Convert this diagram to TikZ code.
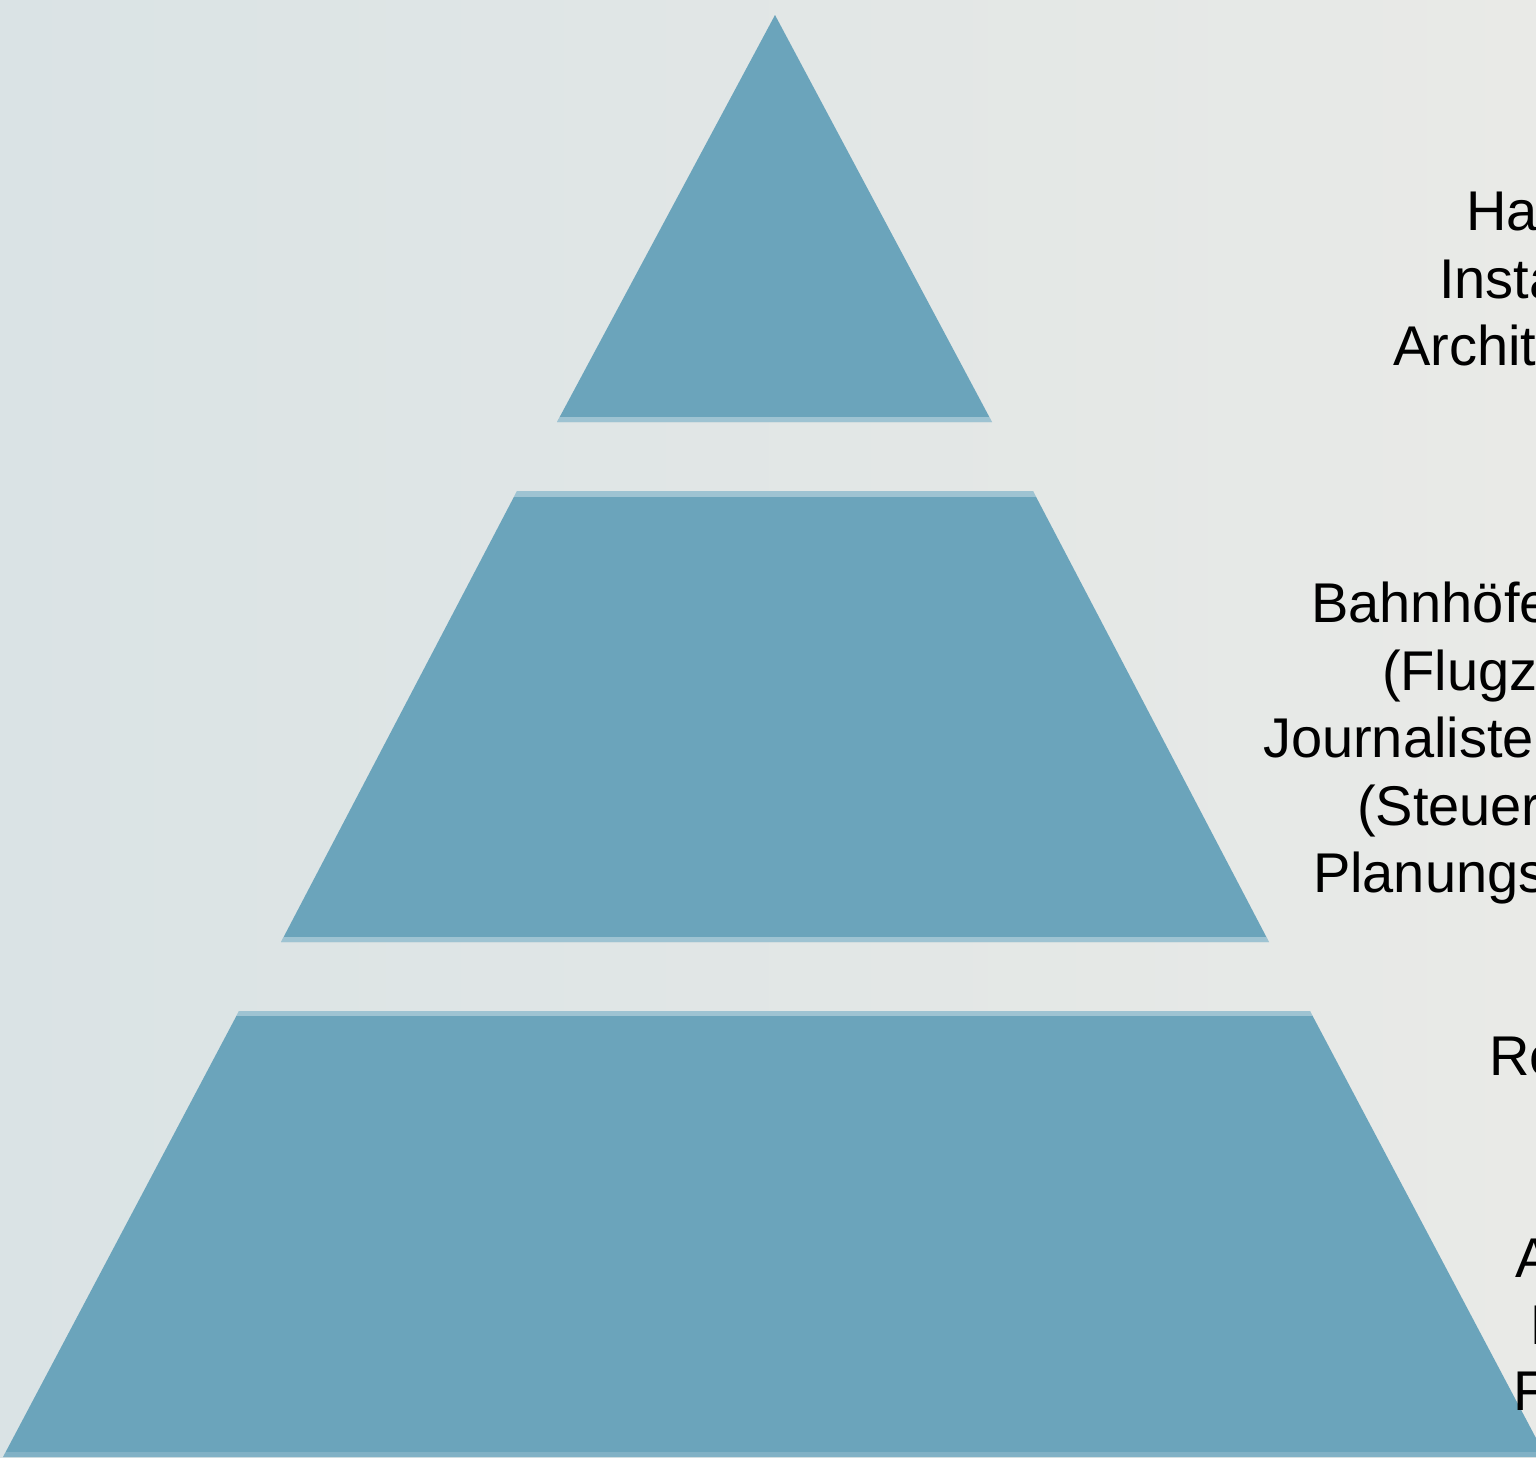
\documentclass[tikz,border=0pt]{standalone}
\usepackage{fontspec}
\setmainfont{Liberation Sans}
\definecolor{bgL}{RGB}{218,227,229}
\definecolor{bgR}{RGB}{233,234,231}
\definecolor{pyr}{RGB}{107,164,187}
\tikzset{
  lvl/.style={fill=pyr, draw=none},
  band/.style={fill=white, opacity=0.35},
  lbl/.style={anchor=base west, inner sep=0pt, outer sep=0pt, font=\fontsize{28pt}{33.6pt}\selectfont, text=black}
}
\begin{document}
\begin{tikzpicture}[x=0.5pt, y=-0.5pt]
\useasboundingbox (0,0) rectangle (1536,1457);
\clip (0,0) rectangle (1536,1457);
\shade[left color=bgL, right color=bgR] (0,0) rectangle (1536,1457);

% top triangle
\path[lvl] (775,15) -- (992,422) -- (557,422) -- cycle;
\begin{scope}
  \clip (775,15) -- (992,422) -- (557,422) -- cycle;
  \fill[band] (0,417) rectangle (1536,422);
\end{scope}

% middle trapezoid
\path[lvl] (517,491) -- (1033,491) -- (1269,942) -- (281,942) -- cycle;
\begin{scope}
  \clip (517,491) -- (1033,491) -- (1269,942) -- (281,942) -- cycle;
  \fill[band] (0,491) rectangle (1536,497);
  \fill[band] (0,937) rectangle (1536,942);
\end{scope}

% bottom trapezoid
\path[lvl] (239,1011) -- (1310,1011) -- (1546,1457) -- (3,1457) -- cycle;
\begin{scope}
  \clip (239,1011) -- (1310,1011) -- (1546,1457) -- (3,1457) -- cycle;
  \fill[band] (0,1011) rectangle (1536,1016);
  \fill[band, opacity=0.15] (0,1452) rectangle (1536,1457);
\end{scope}

% labels, top level
\node[lbl] (t1) at (1466,230) {Handel};
\node[lbl] (t2) at (1439,298) {Installateure};
\node[lbl] (t3) at (1393,365) {Architekten};

% labels, middle level
\node[lbl] (m1) at (1311,622) {Bahnhöfe};
\node[lbl] (m2) at (1382,690) {(Flugzeuge)};
\node[lbl] (m3) at (1263,757) {Journalisten};
\node[lbl] (m4) at (1357,825) {(Steuerberater)};
\node[lbl] (m5) at (1313,892) {Planungsbüros};

% labels, bottom level
\node[lbl] (b1) at (1489,1075) {Restaurants};
\node[lbl] (b2) at (1515,1277) {Apotheken};
\node[lbl] (b3) at (1530,1344) {Banken};
\node[lbl] (b4) at (1513,1410) {Friseure};
\end{tikzpicture}
\end{document}
